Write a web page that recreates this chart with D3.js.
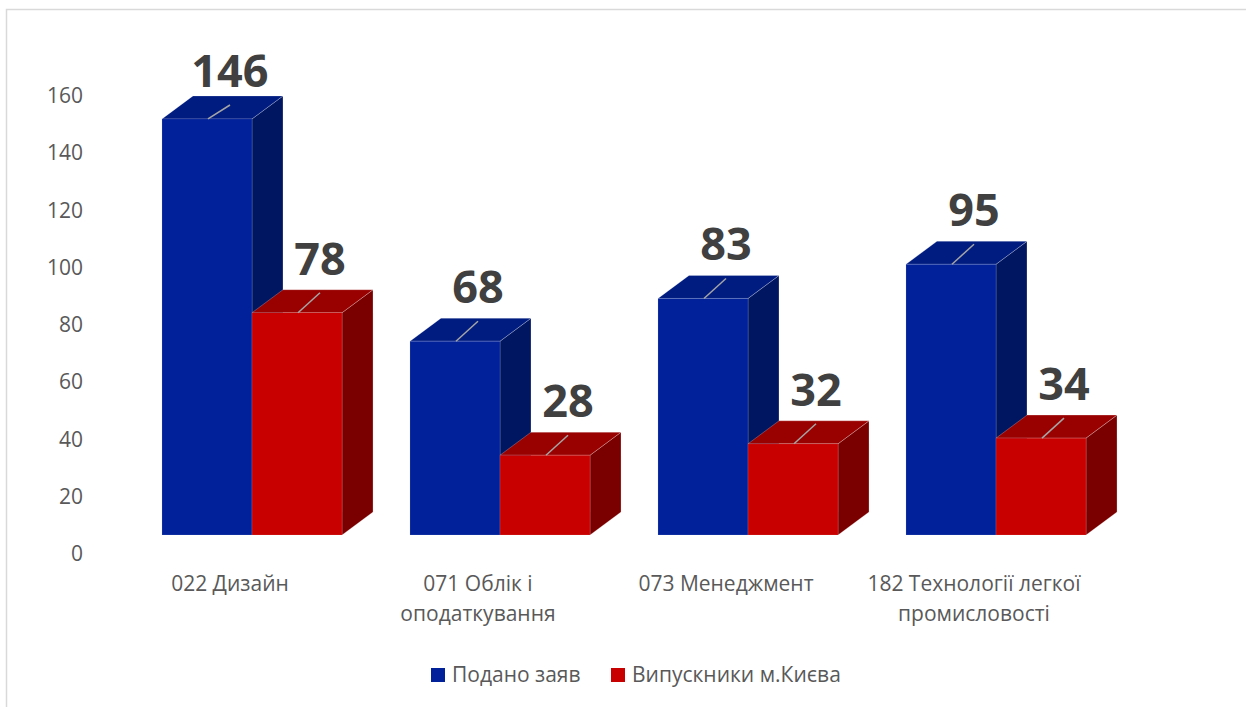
<!DOCTYPE html>
<html>
<head>
<meta charset="utf-8">
<script src="https://cdn.jsdelivr.net/npm/d3@7"></script>
<style>
  html, body { margin: 0; padding: 0; background: #fff; }
  svg { display: block; font-family: "Open Sans", "Noto Sans", sans-serif; }
</style>
</head>
<body>
<div id="chart"></div>
<script>
// 3D column chart - applications vs Kyiv graduates

const categories = ["022 Дизайн", "071 Облік і оподаткування", "073 Менеджмент", "182 Технології легкої промисловості"];
const categoryLines = [["022 Дизайн"], ["071 Облік і", "оподаткування"], ["073 Менеджмент"], ["182 Технології легкої", "промисловості"]];
const seriesNames = ["Подано заяв", "Випускники м.Києва"];
const applied = [146, 68, 83, 95];
const graduates = [78, 28, 32, 34];
const yTicks = [0, 20, 40, 60, 80, 100, 120, 140, 160];

const width = 1246;
const height = 707;

const colors = [
    {front: "#00219a", top: "#001c80", side: "#001660"},
    {front: "#c80000", top: "#990000", side: "#7a0000"}
];
const depth = {dx: 31, dy: -23};

const data = categories.map((c, i) => ({
    category: c,
    lines: categoryLines[i],
    values: [applied[i], graduates[i]]
}));

const svg = d3.select("#chart")
    .append("svg")
    .attr("width", width)
    .attr("height", height);

// chart frame (runs off the right and bottom edges)
svg.append("rect")
    .attr("x", 6.5)
    .attr("y", 9.5)
    .attr("width", width + 20)
    .attr("height", height + 20)
    .attr("fill", "none")
    .attr("stroke", "#d9d9d9")
    .attr("stroke-width", 1.5);

const yAxisScale = d3.scaleLinear().domain([0, 160]).range([554, 96]);
const yBar = d3.scaleLinear().domain([0, 160]).range([535, 79]);

const x0 = d3.scaleBand()
    .domain(categories)
    .range([128, 1120])
    .paddingInner(0.274)
    .paddingOuter(0.137);

const x1 = d3.scaleBand()
    .domain(seriesNames)
    .range([0, x0.bandwidth()]);

// y axis labels
const yAxis = d3.axisLeft(yAxisScale)
    .tickValues(yTicks)
    .tickSize(0)
    .tickPadding(0);

svg.append("g")
    .attr("transform", "translate(83,0)")
    .call(yAxis)
    .call(g => g.select(".domain").remove())
    .selectAll("text")
    .attr("font-family", "'Open Sans', sans-serif")
    .attr("font-size", 21)
    .attr("fill", "#595959");

// bars
const bars = [];
data.forEach(d => {
    d.values.forEach((v, s) => {
        bars.push({category: d.category, series: s, value: v});
    });
});

const barG = svg.append("g");

bars.forEach(b => {
    const xl = x0(b.category) + x1(seriesNames[b.series]);
    const xr = xl + x1.bandwidth();
    const yt = yBar(b.value);
    const yb = yBar(0);
    const c = colors[b.series];
    const g = barG.append("g");

    g.append("path")
        .attr("d", `M${xr},${yt} L${xr + depth.dx},${yt + depth.dy} L${xr + depth.dx},${yb + depth.dy} L${xr},${yb} Z`)
        .attr("fill", c.side)
        .attr("stroke", "rgba(255,255,255,0.3)")
        .attr("stroke-width", 0.8);

    g.append("path")
        .attr("d", `M${xl},${yt} L${xl + depth.dx},${yt + depth.dy} L${xr + depth.dx},${yt + depth.dy} L${xr},${yt} Z`)
        .attr("fill", c.top)
        .attr("stroke", "rgba(255,255,255,0.3)")
        .attr("stroke-width", 0.8);

    g.append("rect")
        .attr("x", xl)
        .attr("y", yt)
        .attr("width", xr - xl)
        .attr("height", yb - yt)
        .attr("fill", c.front)
        .attr("stroke", "rgba(255,255,255,0.2)")
        .attr("stroke-width", 0.6);
});

// data labels with leader lines
bars.forEach(b => {
    const xl = x0(b.category) + x1(seriesNames[b.series]);
    const yt = yBar(b.value);
    const lx = xl + 68;
    const ly = Math.max(yt - 38, 87);

    svg.append("line")
        .attr("x1", xl + 46)
        .attr("y1", yt)
        .attr("x2", lx)
        .attr("y2", ly + 18)
        .attr("stroke", "#a6a6a6")
        .attr("stroke-width", 1.5);

    svg.append("text")
        .attr("x", lx)
        .attr("y", ly)
        .attr("text-anchor", "middle")
        .attr("font-size", 45)
        .attr("font-weight", "bold")
        .attr("fill", "#404040")
        .text(b.value);
});

// category labels
const catG = svg.append("g");
data.forEach(d => {
    const cx = x0(d.category) + 68;
    const t = catG.append("text")
        .attr("text-anchor", "middle")
        .attr("font-size", 21)
        .attr("fill", "#595959");
    d.lines.forEach((line, i) => {
        t.append("tspan")
            .attr("x", cx)
            .attr("y", 591 + i * 30)
            .text(line);
    });
});

// legend
const legendItems = [{x: 431, name: seriesNames[0], color: colors[0].front},
                     {x: 611, name: seriesNames[1], color: colors[1].front}];
const legend = svg.append("g");
legendItems.forEach(item => {
    legend.append("rect")
        .attr("x", item.x)
        .attr("y", 668)
        .attr("width", 14)
        .attr("height", 14)
        .attr("fill", item.color);
    legend.append("text")
        .attr("x", item.x + 21)
        .attr("y", 682)
        .attr("font-size", 21)
        .attr("fill", "#595959")
        .text(item.name);
});
</script>
</body>
</html>
